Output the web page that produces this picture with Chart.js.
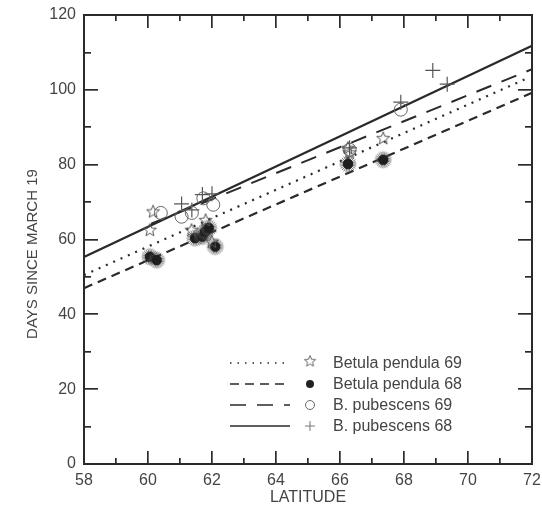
<!DOCTYPE html>
<html>
<head>
<meta charset="utf-8">
<script src="https://cdn.jsdelivr.net/npm/chart.js@4"></script>
<style>
  html, body { margin: 0; padding: 0; background: #fff; }
</style>
</head>
<body>
<canvas id="myChart" width="542" height="511"></canvas>
<script>
const pendula69Lat = [60.06, 60.16, 61.36, 61.8, 62.0, 66.3, 66.25, 67.35];
const pendula69Days = [62.6, 67.5, 62.6, 65.2, 59.4, 83.3, 84.5, 87.1];

const pendula68Lat = [60.06, 60.27, 61.47, 61.7, 61.78, 61.9, 62.1, 66.25, 67.35];
const pendula68Days = [55.4, 54.5, 60.4, 60.8, 62.1, 63.1, 58.1, 80.2, 81.3];

const pubescens69Lat = [60.4, 61.05, 61.37, 61.73, 62.04, 66.3, 67.9];
const pubescens69Days = [67.1, 66.1, 67.1, 71.0, 69.3, 84.0, 94.7];

const pubescens68Lat = [61.05, 61.37, 61.7, 62.0, 66.3, 67.9, 68.9, 69.35];
const pubescens68Days = [69.5, 67.9, 72.0, 72.2, 84.5, 96.7, 105.2, 101.5];

// regression lines (end points)
const pendula69FitLat = [58, 71.8];
const pendula69FitDays = [50.5, 102.9];
const pendula68FitLat = [58, 72];
const pendula68FitDays = [47.0, 99.2];
const pubescens69FitLat = [60.1, 72];
const pubescens69FitDays = [64.2, 105.5];
const pubescens68FitLat = [58, 72];
const pubescens68FitDays = [55.3, 111.8];

const xTicks = [58, 60, 62, 64, 66, 68, 70, 72];
const yTicks = [0, 20, 40, 60, 80, 100, 120];
const xMinorTicks = [59, 61, 63, 65, 67, 69, 71];
const yMinorTicks = [10, 30, 50, 70, 90, 110];

const legendLabels = ["Betula pendula 69", "Betula pendula 68", "B. pubescens 69", "B. pubescens 68"];

const ink = "#2a2a2a";
const textCol = "#444";
const fontFam = "'Liberation Sans', Arial, sans-serif";

function pts(xs, ys) {
  return xs.map((x, i) => ({ x: x, y: ys[i] }));
}

// marker images
function starImg() {
  const c = document.createElement("canvas");
  c.width = 16; c.height = 16;
  const g = c.getContext("2d");
  g.beginPath();
  for (let i = 0; i < 10; i++) {
    const r = i % 2 === 0 ? 6.8 : 2.9;
    const a = -Math.PI / 2 + i * Math.PI / 5;
    const px = 8 + r * Math.cos(a), py = 8.5 + r * Math.sin(a);
    if (i === 0) g.moveTo(px, py); else g.lineTo(px, py);
  }
  g.closePath();
  g.strokeStyle = "#555";
  g.lineWidth = 1;
  g.stroke();
  return c;
}

function burstImg() {
  const c = document.createElement("canvas");
  c.width = 20; c.height = 20;
  const g = c.getContext("2d");
  g.strokeStyle = "#555";
  g.lineWidth = 0.8;
  for (let i = 0; i < 24; i++) {
    const a = i * Math.PI / 12;
    g.beginPath();
    g.moveTo(10, 10);
    g.lineTo(10 + 8.5 * Math.cos(a), 10 + 8.5 * Math.sin(a));
    g.stroke();
  }
  g.beginPath();
  g.arc(10, 10, 5.2, 0, Math.PI * 2);
  g.fillStyle = "#1e1e1e";
  g.fill();
  return c;
}

const starMark = starImg();
const burstMark = burstImg();

const lineStyles = [
  { dash: [2, 6], width: 2.2 },
  { dash: [9, 6], width: 2.2 },
  { dash: [16, 11], width: 2 },
  { dash: [], width: 2.2 }
];

function drawSeg(ctx, x1, y1, x2, y2) {
  ctx.beginPath();
  ctx.moveTo(x1, y1);
  ctx.lineTo(x2, y2);
  ctx.stroke();
}

// one axis per side and tick size; inward ticks come from a negative tickLength
function tickAxis(axis, position, values, len, weight, labelPad) {
  const isX = axis === "x";
  return {
    axis: axis,
    type: "linear",
    position: position,
    weight: weight,
    min: isX ? 58 : 0,
    max: isX ? 72 : 120,
    afterBuildTicks: (s) => { s.ticks = values.map(v => ({ value: v })); },
    afterFit: (s) => {
      if (isX) { s.height = labelPad ? 47 : 0; s.paddingLeft = 0; s.paddingRight = 0; }
      else { s.width = labelPad ? 84 : 0; s.paddingTop = 0; s.paddingBottom = 0; }
    },
    grid: {
      display: true,
      drawOnChartArea: false,
      drawTicks: true,
      tickLength: -len,
      color: ink,
      lineWidth: 1.7
    },
    border: { display: false },
    ticks: {
      display: !!labelPad,
      autoSkip: false,
      maxRotation: 0,
      padding: (labelPad || 0) + len,
      color: textCol,
      font: { family: fontFam, size: 16 }
    }
  };
}

// frame, axis titles and legend
const boxPlugin = {
  id: "box",
  afterDraw(chart) {
    const ctx = chart.ctx;
    const a = chart.chartArea;
    ctx.save();
    ctx.setLineDash([]);
    ctx.strokeStyle = ink;
    ctx.lineWidth = 2;
    ctx.strokeRect(a.left, a.top, a.right - a.left, a.bottom - a.top);

    ctx.fillStyle = textCol;
    ctx.font = "16px " + fontFam;
    ctx.textAlign = "center";
    ctx.textBaseline = "middle";
    ctx.fillText("LATITUDE", (a.left + a.right) / 2, 498);
    ctx.save();
    ctx.translate(33, 254);
    ctx.rotate(-Math.PI / 2);
    ctx.font = "15px " + fontFam;
    ctx.fillText("DAYS SINCE MARCH 19", 0, 0);
    ctx.restore();

    const rowY = [363, 384, 405, 426];
    ctx.font = "16px " + fontFam;
    ctx.textAlign = "left";
    legendLabels.forEach((lab, i) => {
      const y = rowY[i];
      ctx.save();
      ctx.strokeStyle = ink;
      ctx.lineWidth = i === 0 ? 1.4 : 1.6;
      ctx.setLineDash(i === 0 ? [1.5, 6] : lineStyles[i].dash);
      drawSeg(ctx, 230, y, 290, y);
      ctx.restore();
      const mx = 310;
      if (i === 0) {
        ctx.drawImage(starMark, mx - 7, y - 9, 14, 14);
      } else if (i === 1) {
        ctx.beginPath();
        ctx.arc(mx, y, 4, 0, Math.PI * 2);
        ctx.fillStyle = "#222";
        ctx.fill();
      } else if (i === 2) {
        ctx.beginPath();
        ctx.arc(mx, y, 4.5, 0, Math.PI * 2);
        ctx.strokeStyle = "#666";
        ctx.lineWidth = 1;
        ctx.stroke();
      } else {
        ctx.strokeStyle = "#777";
        ctx.lineWidth = 1;
        drawSeg(ctx, mx - 5, y, mx + 5, y);
        drawSeg(ctx, mx, y - 5, mx, y + 5);
      }
      ctx.fillStyle = textCol;
      ctx.fillText(lab, 333, y + 1);
    });
    ctx.restore();
  }
};

new Chart(document.querySelector("#myChart"), {
  type: "scatter",
  data: {
    datasets: [
      { data: pts(pendula69Lat, pendula69Days), pointStyle: starMark, pointRadius: 7 },
      { data: pts(pendula68Lat, pendula68Days), pointStyle: burstMark, pointRadius: 9 },
      {
        data: pts(pubescens69Lat, pubescens69Days), pointStyle: "circle", pointRadius: 6.5,
        backgroundColor: "rgba(0,0,0,0)", borderColor: "#666", borderWidth: 1
      },
      {
        data: pts(pubescens68Lat, pubescens68Days), pointStyle: "cross", pointRadius: 7.5,
        borderColor: "#555", borderWidth: 1.2
      },
      {
        data: pts(pendula69FitLat, pendula69FitDays), showLine: true, pointRadius: 0,
        borderColor: ink, borderWidth: lineStyles[0].width, borderDash: lineStyles[0].dash
      },
      {
        data: pts(pendula68FitLat, pendula68FitDays), showLine: true, pointRadius: 0,
        borderColor: ink, borderWidth: lineStyles[1].width, borderDash: lineStyles[1].dash
      },
      {
        data: pts(pubescens69FitLat, pubescens69FitDays), showLine: true, pointRadius: 0,
        borderColor: ink, borderWidth: lineStyles[2].width, borderDash: lineStyles[2].dash
      },
      {
        data: pts(pubescens68FitLat, pubescens68FitDays), showLine: true, pointRadius: 0,
        borderColor: ink, borderWidth: lineStyles[3].width, borderDash: lineStyles[3].dash
      }
    ]
  },
  options: {
    responsive: false,
    animation: false,
    layout: { padding: { top: 15, right: 10, left: 0, bottom: 0 } },
    plugins: { legend: { display: false }, tooltip: { enabled: false } },
    scales: {
      x: tickAxis("x", "bottom", xTicks, 13, 1, 7),
      xMinor: tickAxis("x", "bottom", xMinorTicks, 6, 0, 0),
      xTop: tickAxis("x", "top", xTicks, 13, 1, 0),
      xTopMinor: tickAxis("x", "top", xMinorTicks, 6, 0, 0),
      y: tickAxis("y", "left", yTicks, 14, 1, 8),
      yMinor: tickAxis("y", "left", yMinorTicks, 7, 0, 0),
      yRight: tickAxis("y", "right", yTicks, 14, 1, 0),
      yRightMinor: tickAxis("y", "right", yMinorTicks, 7, 0, 0)
    }
  },
  plugins: [boxPlugin]
});
</script>
</body>
</html>
